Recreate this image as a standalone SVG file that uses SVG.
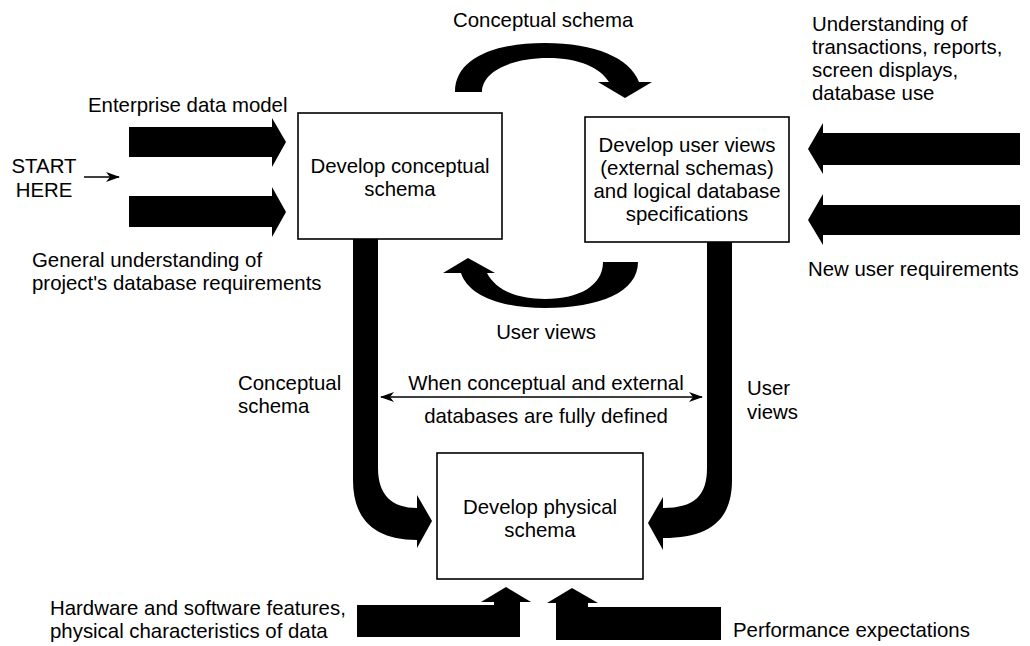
<svg xmlns="http://www.w3.org/2000/svg" width="1030" height="646" viewBox="0 0 1030 646">
<style>
text{font-family:"Liberation Sans",Arial,sans-serif;font-size:20.4px;fill:#000}
.c{text-anchor:middle}
.box{fill:#fff;stroke:#000;stroke-width:1.6}
.thick{fill:#000;stroke:none}
.thin{stroke:#000;stroke-width:1.3;fill:none}
</style>
<defs>
<marker id="ah" viewBox="0 0 14 10" refX="13" refY="5" markerWidth="14" markerHeight="10" markerUnits="userSpaceOnUse" orient="auto-start-reverse">
<path d="M0,0 L14,5 L0,10 L4,5 Z" fill="#000"/>
</marker>
</defs>
<rect width="1030" height="646" fill="#fff"/>

<g id="connectors">
<polygon class="thick" points="129,127 272,127 272,118 286,142 272,167 272,157 129,157"/>
<polygon class="thick" points="129,196 272,196 272,187 286,212 272,237 272,227 129,227"/>
<polygon class="thick" points="1020,133 823,133 823,123 808,149 823,174 823,165 1020,165"/>
<polygon class="thick" points="1020,205 823,205 823,194 808,220 823,245 823,235 1020,235"/>
<path class="thick" d="M455,92 C455,58 495,43 545,43 C595,43 630,58 639,82 L652,82 L625,98 L598,82 L609,82 C600,68 580,58 548,58 C510,58 482,72 482,92 Z"/>
<path class="thick" d="M603,262 L638,262 C638,292 600,308 545,308 C500,308 468,295 461,273 L443,273 L468,258 L495,273 L487,273 C497,292 520,299 545,299 C580,299 603,285 603,262 Z"/>
<path class="thick" d="M353,239 L378,239 L378,468 C378,495 392,508 417,508 L417,495 L432,521 L417,548 L417,540 C375,540 353,520 353,480 Z"/>
<path class="thick" d="M707,242 L732,242 L732,480 C732,520 710,538 663,538 L663,550 L648,523 L663,497 L663,508 C695,508 707,495 707,468 Z"/>
<path class="thick" d="M357,605 L494,605 L494,602 L481,602 L506,587 L531,602 L520,602 L520,637 L357,637 Z"/>
<path class="thick" d="M721,607 L588,607 L588,603 L598,603 L572,588 L547,603 L556,603 L556,640 L721,640 Z"/>
<line class="thin" x1="84" y1="177" x2="119" y2="177" marker-end="url(#ah)"/>
<line class="thin" x1="381" y1="397" x2="702" y2="397" marker-start="url(#ah)" marker-end="url(#ah)"/>
</g>

<g id="node-conceptual">
<rect class="box" x="298" y="113" width="204" height="126"/>
<text class="c" x="400" y="173">Develop conceptual</text>
<text class="c" x="400" y="196">schema</text>
</g>

<g id="node-userviews">
<rect class="box" x="585" y="117" width="204" height="125"/>
<text class="c" x="687" y="152">Develop user views</text>
<text class="c" x="687" y="175">(external schemas)</text>
<text class="c" x="687" y="198">and logical database</text>
<text class="c" x="687" y="221">specifications</text>
</g>

<g id="node-physical">
<rect class="box" x="437" y="453" width="206" height="126"/>
<text class="c" x="540" y="514">Develop physical</text>
<text class="c" x="540" y="537">schema</text>
</g>

<g id="labels">
<text x="453" y="27">Conceptual schema</text>
<text x="812" y="31">Understanding of</text>
<text x="812" y="54">transactions, reports,</text>
<text x="812" y="77">screen displays,</text>
<text x="812" y="100">database use</text>
<text x="88" y="112">Enterprise data model</text>
<text class="c" x="44" y="173">START</text>
<text class="c" x="44" y="197">HERE</text>
<text x="32" y="267">General understanding of</text>
<text x="32" y="290">project's database requirements</text>
<text x="808" y="276">New user requirements</text>
<text class="c" x="546" y="339">User views</text>
<text x="238" y="390">Conceptual</text>
<text x="238" y="413">schema</text>
<text class="c" x="546" y="390">When conceptual and external</text>
<text class="c" x="546" y="423">databases are fully defined</text>
<text x="747" y="395">User</text>
<text x="747" y="419">views</text>
<text x="50" y="615">Hardware and software features,</text>
<text x="50" y="638">physical characteristics of data</text>
<text x="733" y="637">Performance expectations</text>
</g>
</svg>
